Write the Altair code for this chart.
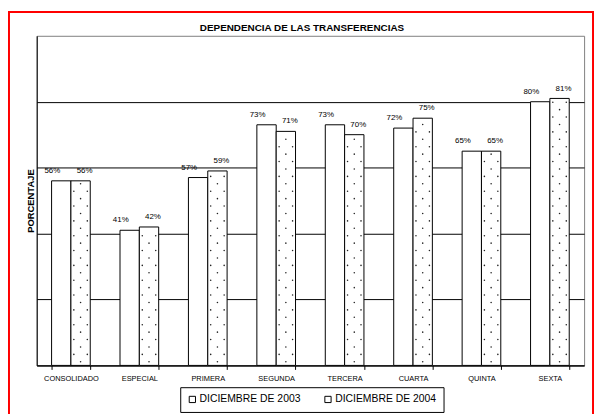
import altair as alt
import pandas as pd

categorias = ["CONSOLIDADO", "ESPECIAL", "PRIMERA", "SEGUNDA", "TERCERA", "CUARTA", "QUINTA", "SEXTA"]
serie_2003 = [56, 41, 57, 73, 73, 72, 65, 80]
serie_2004 = [56, 42, 59, 71, 70, 75, 65, 81]
series = ["DICIEMBRE DE 2003", "DICIEMBRE DE 2004"]
titulo = "DEPENDENCIA DE LAS TRANSFERENCIAS"

FONT = "Liberation Sans"

rows = []
for c, a, b in zip(categorias, serie_2003, serie_2004):
    rows.append({"cat": c, "serie": series[0], "valor": a})
    rows.append({"cat": c, "serie": series[1], "valor": b})
df = pd.DataFrame(rows)

# dotted fill texture for the 2004 bars (decoration only, stays inside each bar)
tex = []
for c, b in zip(categorias, serie_2004):
    y = 1.1
    k = 0
    while y <= b - 0.8:
        tex.append({"cat": c, "serie": series[1], "valor": y, "pos": "c" if k % 2 == 0 else "s"})
        y += 2.25
        k += 1
dots = pd.DataFrame(tex)

DOT_C = "M -0.1 0 a 0.1 0.1 0 1 0 0.2 0 a 0.1 0.1 0 1 0 -0.2 0 Z"
DOT_S = ("M -0.95 0 a 0.1 0.1 0 1 0 0.2 0 a 0.1 0.1 0 1 0 -0.2 0 Z "
         "M 0.75 0 a 0.1 0.1 0 1 0 0.2 0 a 0.1 0.1 0 1 0 -0.2 0 Z")

x_enc = alt.X(
    "cat:N",
    sort=categorias,
    scale=alt.Scale(domain=categorias, paddingInner=0.435, paddingOuter=0.2175),
    axis=alt.Axis(title=None, labelAngle=0, tickBand="extent", tickSize=4, labelPadding=5,
                  labelFontSize=7.5, labelFont=FONT, labelColor="black",
                  domainColor="black", tickColor="black", grid=False),
)
xo_enc = alt.XOffset("serie:N", scale=alt.Scale(domain=series, paddingInner=0, paddingOuter=0))
y_enc = alt.Y(
    "valor:Q",
    scale=alt.Scale(domain=[0, 100]),
    axis=alt.Axis(values=[0, 20, 40, 60, 80], labels=False, ticks=False,
                  title="PORCENTAJE", titleFontSize=9.5, titleFontWeight="bold", titleFont=FONT,
                  titleColor="black", titlePadding=1, gridColor="black", gridWidth=1,
                  domainColor="black"),
)

bars = alt.Chart(df).mark_bar(stroke="black", strokeWidth=1).encode(
    x=x_enc,
    xOffset=xo_enc,
    y=y_enc,
    fill=alt.Fill(
        "serie:N",
        scale=alt.Scale(domain=series, range=["white", "white"]),
        legend=alt.Legend(orient="none", legendX=145, legendY=355, direction="horizontal",
                          columns=2, title=None, symbolType="square", symbolSize=40,
                          symbolStrokeColor="black", symbolStrokeWidth=1,
                          symbolFillColor="white", labelFontSize=10.5, labelFont=FONT,
                          labelColor="black", labelOffset=2, columnPadding=22, padding=7,
                          strokeColor="black", fillColor="white"),
    ),
)

dots_c = alt.Chart(dots).transform_filter(alt.datum.pos == "c").mark_point(
    shape=DOT_C, size=256, filled=True, fill="#222222", strokeWidth=0, opacity=1
).encode(x=x_enc, xOffset=xo_enc, y=y_enc)
dots_s = alt.Chart(dots).transform_filter(alt.datum.pos == "s").mark_point(
    shape=DOT_S, size=256, filled=True, fill="#222222", strokeWidth=0, opacity=1
).encode(x=x_enc, xOffset=xo_enc, y=y_enc)

txt = alt.Chart(df).transform_calculate(label="datum.valor + '%'")
t2003 = txt.transform_filter(alt.datum.serie == series[0]).mark_text(
    dx=-9, dy=-8, baseline="alphabetic", fontSize=8, font=FONT, color="black"
).encode(x=x_enc, xOffset=xo_enc, y=y_enc, text="label:N")
t2004 = txt.transform_filter(alt.datum.serie == series[1]).mark_text(
    dx=4, dy=-8, baseline="alphabetic", fontSize=8, font=FONT, color="black"
).encode(x=x_enc, xOffset=xo_enc, y=y_enc, text="label:N")

frame = alt.Chart(pd.DataFrame({"a": [0]})).mark_rect(
    fillOpacity=0, stroke="red", strokeWidth=2, clip=False
).encode(x=alt.value(-28), x2=alt.value(562), y=alt.value(-24), y2=alt.value(440))

title = alt.Chart(pd.DataFrame({"t": [titulo]})).mark_text(
    fontSize=10, fontWeight="bold", font=FONT, color="black", align="center",
    baseline="alphabetic", clip=False
).encode(x=alt.value(268), y=alt.value(-5), text="t:N")

chart = alt.layer(frame, bars, dots_c, dots_s, t2003, t2004, title).properties(
    width=553,
    height=333,
    padding={"left": 29, "top": 26, "right": 10, "bottom": 47},
    autosize="none",
).configure_view(stroke="#808080", strokeWidth=1)

chart.save("out.html", embed_options={"renderer": "svg", "actions": False})
